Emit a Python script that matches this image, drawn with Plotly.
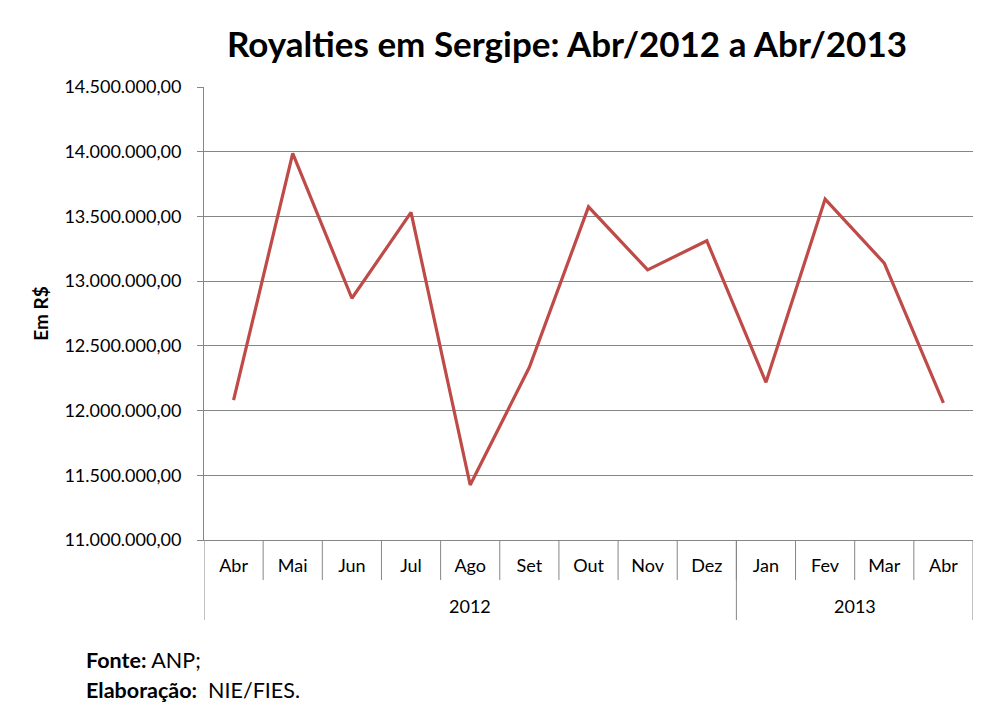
import plotly.graph_objects as go

# royalties Sergipe, Abr/2012 - Abr/2013 (R$)
months = ["Abr", "Mai", "Jun", "Jul", "Ago", "Set", "Out", "Nov", "Dez",
          "Jan", "Fev", "Mar", "Abr"]
years = ["2012", "2013"]
year_len = [9, 4]
values = [12080000, 13987000, 12868000, 13531000, 11425000, 12334000, 13574000,
          13087000, 13312000, 12218000, 13634000, 13139000, 12059000]
yticks = [11000000, 11500000, 12000000, 12500000, 13000000, 13500000, 14000000, 14500000]

FONT = "Lato"
GRID = "#868686"
W, H = 989, 713   # page body has 8px margin
ML, MT, PW, PH = 196, 79, 769, 453

x = list(range(len(months)))

fig = go.Figure()
fig.add_trace(go.Scatter(x=x, y=values, mode="lines",
                         line=dict(color="#BE4B48", width=3.2),
                         hoverinfo="skip"))

# separators below the axis
shapes = []
for i in range(1, len(months)):
    shapes.append(dict(type="line", xref="x", yref="paper", x0=i - 0.5, x1=i - 0.5,
                       y0=0, y1=-40 / PH, line=dict(color=GRID, width=1)))
b = -0.5
bounds = [b]
for n in year_len:
    b += n
    bounds.append(b)
for bx in bounds:
    shapes.append(dict(type="line", xref="x", yref="paper", x0=bx, x1=bx,
                       y0=0, y1=-80 / PH, line=dict(color=GRID, width=1)))

annotations = []
for k, yr in enumerate(years):
    annotations.append(dict(text=yr, xref="x", yref="paper",
                            x=(bounds[k] + bounds[k + 1]) / 2, y=-66 / PH,
                            yanchor="middle", showarrow=False,
                            font=dict(family=FONT, size=18, color="#000")))
foot = ["<b>Fonte:</b> ANP;", "<b>Elaboração:</b>  NIE/FIES."]
for k, t in enumerate(foot):
    annotations.append(dict(text=t, xref="paper", yref="paper",
                            x=-120 / PW, y=-(120 + 30 * k) / PH,
                            xanchor="left", yanchor="middle", align="left", showarrow=False,
                            font=dict(family=FONT, size=21.5, color="#000")))

fig.update_layout(
    width=W, height=H,
    margin=dict(l=ML, r=W - ML - PW, t=MT, b=H - MT - PH),
    paper_bgcolor="white", plot_bgcolor="white",
    separators=",.",
    showlegend=False,
    title=dict(text="<b>Royalties em Sergipe: Abr/2012 a Abr/2013</b>",
               x=559 / W, xanchor="center", y=1 - 37 / H, yanchor="middle",
               font=dict(family=FONT, size=35, color="#000")),
    font=dict(family=FONT, size=18, color="#000"),
    xaxis=dict(tickvals=x, ticktext=months, range=[-0.5, 12.5],
               showgrid=False, zeroline=False, showline=True, linecolor=GRID,
               ticks="", ticklabelstandoff=9, tickfont=dict(family=FONT, size=18)),
    yaxis=dict(range=[11000000, 14500000], tickvals=yticks, tickformat=",.2f",
               showgrid=True, gridcolor=GRID, gridwidth=1, zeroline=False,
               showline=True, linecolor=GRID, ticks="outside", ticklen=6, tickcolor=GRID,
               ticklabelstandoff=12, tickfont=dict(family=FONT, size=18),
               title=dict(text="<b>Em R$</b>", standoff=10,
                          font=dict(family=FONT, size=19))),
    shapes=shapes,
    annotations=annotations,
)

fig.write_html("out.html")
